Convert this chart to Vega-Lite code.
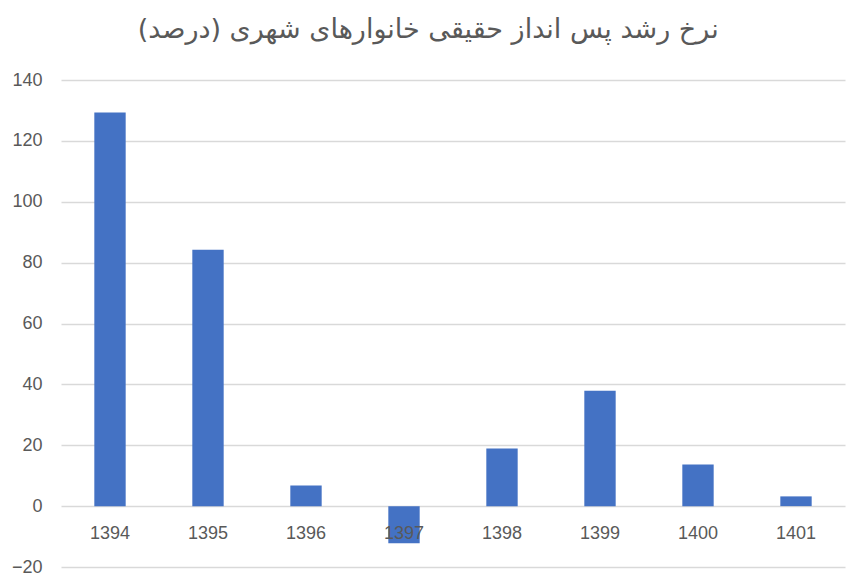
{
  "$schema": "https://vega.github.io/schema/vega-lite/v6.json",
  "width": 784,
  "height": 487,
  "autosize": "none",
  "padding": {"left": 61, "top": 80, "right": 15, "bottom": 20},
  "background": "white",
  "title": {
    "text": "نرخ رشد پس انداز حقیقی خانوارهای شهری (درصد)",
    "font": "DejaVu Sans",
    "fontSize": 27,
    "fontWeight": "normal",
    "color": "#595959",
    "anchor": "middle",
    "frame": "bounds",
    "offset": 27
  },
  "data": {
    "values": [
      {"year": "1394", "rate": 129.3},
      {"year": "1395", "rate": 84.2},
      {"year": "1396", "rate": 6.8},
      {"year": "1397", "rate": -12.2},
      {"year": "1398", "rate": 18.9},
      {"year": "1399", "rate": 37.9},
      {"year": "1400", "rate": 13.7},
      {"year": "1401", "rate": 3.2}
    ]
  },
  "encoding": {
    "x": {
      "field": "year",
      "type": "ordinal",
      "sort": null,
      "scale": {"paddingInner": 0.68, "paddingOuter": 0.34},
      "axis": null
    }
  },
  "layer": [
    {
      "mark": {"type": "bar", "color": "#4472C4"},
      "encoding": {
        "y": {
          "field": "rate",
          "type": "quantitative",
          "scale": {"domain": [-20, 140], "nice": false},
          "axis": {
            "values": [-20, 0, 20, 40, 60, 80, 100, 120, 140],
            "title": null,
            "domain": false,
            "ticks": false,
            "labelFont": "Liberation Sans",
            "labelFontSize": 18,
            "labelColor": "#595959",
            "labelPadding": 19,
            "gridColor": "#D9D9D9",
            "gridWidth": 1.5
          }
        }
      }
    },
    {
      "mark": {"type": "text", "font": "Liberation Sans", "fontSize": 18, "color": "#595959", "dy": 28},
      "encoding": {
        "y": {"datum": 0, "type": "quantitative"},
        "text": {"field": "year"}
      }
    }
  ],
  "config": {"view": {"stroke": null}}
}
